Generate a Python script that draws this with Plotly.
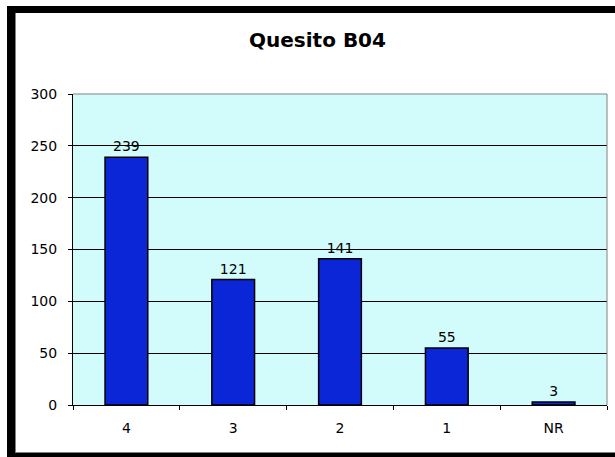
import plotly.graph_objects as go

categories = ["4", "3", "2", "1", "NR"]
values = [239, 121, 141, 55, 3]
y_ticks = [0, 50, 100, 150, 200, 250, 300]

W, H = 615, 457
# target plot area in page pixels: x 73..607, y 94..405
L, T = 73, 94
R, B = W - 607, H - 405
pw, ph = W - L - R, H - T - B

def px(x):  # page pixel -> paper x
    return (x - L) / pw

def py(y):  # page pixel -> paper y
    return (H - B - y) / ph

fig = go.Figure(go.Bar(
    x=categories, y=values,
    marker=dict(color="#0B26D6", line=dict(color="#000000", width=1.5)),
    text=[str(v) for v in values], textposition="outside",
    textfont=dict(family="DejaVu Sans", size=14, color="#000000"),
    cliponaxis=False,
))

shapes = [
    dict(type="rect", xref="paper", yref="paper", x0=px(7), x1=px(W), y0=py(6), y1=py(13),
         fillcolor="#000000", line=dict(width=0), layer="above"),
    dict(type="rect", xref="paper", yref="paper", x0=px(7), x1=px(15), y0=py(6), y1=py(H),
         fillcolor="#000000", line=dict(width=0), layer="above"),
    dict(type="rect", xref="paper", yref="paper", x0=px(7), x1=px(W), y0=py(453), y1=py(H),
         fillcolor="#000000", line=dict(width=0), layer="above"),
    dict(type="line", xref="paper", yref="paper", x0=px(15.5), x1=px(15.5), y0=py(13), y1=py(453),
         line=dict(color="#808080", width=1), layer="above"),
    dict(type="line", xref="paper", yref="paper", x0=px(15), x1=px(W), y0=py(452.5), y1=py(452.5),
         line=dict(color="#808080", width=1), layer="above"),
    # plot area border top/right
    dict(type="line", xref="paper", yref="paper", x0=0, x1=1, y0=1, y1=1,
         line=dict(color="#808080", width=1)),
    dict(type="line", xref="paper", yref="paper", x0=1, x1=1, y0=0, y1=1,
         line=dict(color="#808080", width=1)),
]

fig.update_layout(
    width=W, height=H,
    margin=dict(l=L, r=R, t=T, b=B),
    paper_bgcolor="#FFFFFF",
    plot_bgcolor="#D2FCFC",
    title=dict(text="<b>Quesito B04</b>", x=317.5 / W, xanchor="center",
               y=1 - 40 / H, yanchor="middle",
               font=dict(family="DejaVu Sans", size=20, color="#000000")),
    bargap=0.6,
    showlegend=False,
    font=dict(family="DejaVu Sans", size=14, color="#000000"),
    shapes=shapes,
)
fig.update_xaxes(
    type="category", tickson="boundaries", ticks="outside", ticklen=4,
    tickcolor="#000000", showline=True, linecolor="#000000", linewidth=1,
    showgrid=False, ticklabelstandoff=10,
    tickfont=dict(family="DejaVu Sans", size=14, color="#000000"),
)
fig.update_yaxes(
    range=[0, 300], tickvals=y_ticks, ticks="outside", ticklen=4,
    tickcolor="#000000", showline=True, linecolor="#000000", linewidth=1,
    showgrid=True, gridcolor="#000000", gridwidth=1, zeroline=False,
    ticklabelstandoff=8,
    tickfont=dict(family="DejaVu Sans", size=14, color="#000000"),
)

fig.write_html(
    "out.html",
    config={"displayModeBar": False},
    post_script="document.body.style.margin='0';document.body.style.overflow='hidden';",
)
